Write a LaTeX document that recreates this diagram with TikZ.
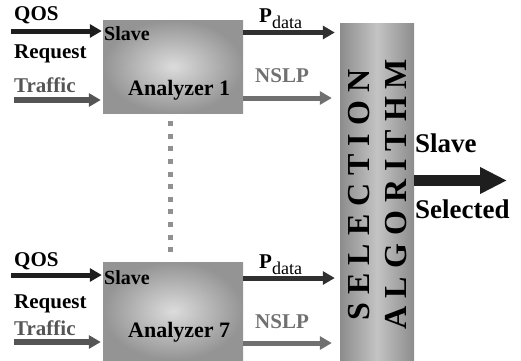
\documentclass[tikz,border=0pt]{standalone}
\usepackage{fontspec}
\setmainfont{Liberation Serif}
\usepackage{xcolor}
\usetikzlibrary{arrows.meta}

\definecolor{boxlight}{HTML}{DCDCDC}
\definecolor{boxdark}{HTML}{949494}
\definecolor{barlight}{HTML}{C4C4C4}
\definecolor{bardark}{HTML}{8C8C8C}
\definecolor{qosblack}{HTML}{1E1E1E}
\definecolor{pdark}{HTML}{303030}
\definecolor{trafgray}{HTML}{555555}
\definecolor{nslpgray}{HTML}{707070}
\definecolor{dotgray}{HTML}{909090}

\tikzset{
    lbl/.style={inner sep=0pt, anchor=base west, font=\fontsize{21}{21}\selectfont\bfseries},
    analyzer/.style={minimum width=140pt, inner sep=0pt, shading=radial, inner color=boxlight, outer color=boxdark},
    selbar/.style={minimum width=74pt, minimum height=337pt, inner sep=0pt, shading=axis, left color=bardark, right color=bardark, middle color=barlight},
    inarrow/.style={line width=5pt, -{Triangle[length=12pt,width=13pt]}},
    barword/.style={rotate=90, inner sep=0pt, font=\fontsize{32}{32}\selectfont\bfseries\addfontfeature{LetterSpace=25}}
}

\begin{document}
\begin{tikzpicture}[x=1pt, y=-1pt]
    \useasboundingbox (0,0) rectangle (521,360);

    % Analyzer boxes and selection bar
    \node[analyzer, minimum height=93pt] (ana1) at (173,66.5) {};
    \node[analyzer, minimum height=98pt] (ana7) at (173,311) {};
    \node[selbar] (alg) at (377,191.5) {};

    \node[barword] (sel) at (359,195) {SELECTION};
    \node[barword] (algo) at (396,194) {ALGORITHM};

    % Texts inside the boxes
    \node[lbl, font=\fontsize{20}{20}\selectfont\bfseries] (slave1) at (104,40) {Slave};
    \node[lbl, font=\fontsize{22}{22}\selectfont\bfseries] (name1) at (128,95) {Analyzer 1};
    \node[lbl, font=\fontsize{20}{20}\selectfont\bfseries] (slave7) at (104,284) {Slave};
    \node[lbl, font=\fontsize{22}{22}\selectfont\bfseries] (name7) at (128,337) {Analyzer 7};

    % Inputs of analyzer 1
    \node[lbl] (qos1) at (14,20) {QOS};
    \node[lbl] (req1) at (14,58) {Request};
    \node[lbl, text=trafgray] (traf1) at (14,92) {Traffic};
    \coordinate (qin1) at (11,31);
    \coordinate (tin1) at (14,100);
    \draw[inarrow, qosblack, shorten >=1pt] (qin1) -- (qin1 -| ana1.west);
    \draw[inarrow, trafgray, line width=6pt, shorten >=2pt] (tin1) -- (tin1 -| ana1.west);

    % Inputs of analyzer 7
    \node[lbl] (qos7) at (14,266) {QOS};
    \node[lbl] (req7) at (14,308) {Request};
    \node[lbl, text=trafgray] (traf7) at (14,335) {Traffic};
    \coordinate (qin7) at (11,275);
    \coordinate (tin7) at (14,342);
    \draw[inarrow, qosblack, shorten >=1pt] (qin7) -- (qin7 -| ana7.west);
    \draw[inarrow, trafgray, line width=6pt, shorten >=2pt] (tin7) -- (tin7 -| ana7.west);

    % Outputs of analyzer 1
    \node[lbl] (pd1) at (259,22) {P\raisebox{-6pt}{\fontsize{18}{18}\selectfont\mdseries data}};
    \node[lbl, text=nslpgray] (nslp1) at (255,82) {NSLP};
    \coordinate (pout1) at (300,32.5);
    \coordinate (nout1) at (300,98);
    \draw[inarrow, pdark, shorten >=5pt] (ana1.east |- pout1) -- (pout1 -| alg.west);
    \draw[inarrow, nslpgray, shorten >=8pt] (ana1.east |- nout1) -- (nout1 -| alg.west);

    % Outputs of analyzer 7
    \node[lbl] (pd7) at (259,268) {P\raisebox{-6pt}{\fontsize{18}{18}\selectfont\mdseries data}};
    \node[lbl, text=nslpgray] (nslp7) at (255,328) {NSLP};
    \coordinate (pout7) at (300,278);
    \coordinate (nout7) at (300,343);
    \draw[inarrow, pdark, shorten >=5pt] (ana7.east |- pout7) -- (pout7 -| alg.west);
    \draw[inarrow, nslpgray, shorten >=8pt] (ana7.east |- nout7) -- (nout7 -| alg.west);

    % Dots between the analyzers
    \draw[dotgray, line width=5pt, dash pattern=on 5pt off 7.6pt, shorten <=8pt, shorten >=10pt]
        ([xshift=-3pt]ana1.south) -- ([xshift=-3pt]ana7.north);

    % Selected slave
    \coordinate (out) at (507,180.5);
    \draw[qosblack, line width=11pt, -{Triangle[length=27pt,width=25pt]}] (alg.east |- out) -- (out);
    \node[lbl, font=\fontsize{27}{27}\selectfont\bfseries] (slaveout) at (415,152) {Slave};
    \node[lbl, font=\fontsize{27}{27}\selectfont\bfseries] (selected) at (415,218) {Selected};
\end{tikzpicture}
\end{document}
